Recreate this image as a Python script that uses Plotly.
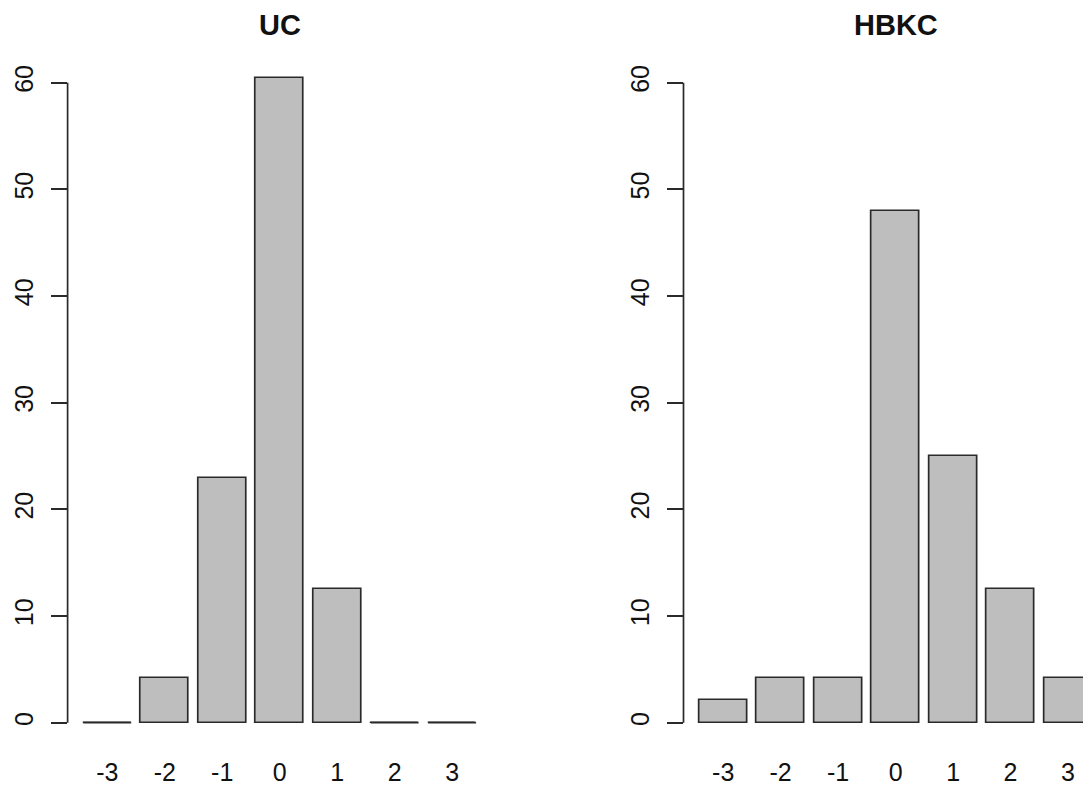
import plotly.graph_objects as go

categories = ["-3", "-2", "-1", "0", "1", "2", "3"]
uc_values = [0.0, 4.17, 22.92, 60.42, 12.5, 0.0, 0.0]
hbkc_values = [2.08, 4.17, 4.17, 47.92, 25.0, 12.5, 4.17]
y_ticks = [0, 10, 20, 30, 40, 50, 60]
titles = ["UC", "HBKC"]

BAR_W = 1.0
SPACE = 0.2
positions = [SPACE + BAR_W / 2 + i * (BAR_W + SPACE) for i in range(len(categories))]

FILL = "#bebebe"
LINE = "#2a2a2a"
LW = 1.7
FONT = "Liberation Sans, Arial, Helvetica, sans-serif"
TICK_SIZE = 25
TITLE_SIZE = 29

# the page body has an 8px default margin; lay out in window pixels
OFF = 8
WIN_W, WIN_H = 1091, 789
W, H = WIN_W - OFF, WIN_H - OFF

left_px = (67.6 - OFF, 491.8 - OFF)
right_px = (683.5 - OFF, 1107.8 - OFF)
y_px = (748.3 - OFF, 57.1 - OFF)  # bottom, top

n = len(categories)
span = n * (BAR_W + SPACE)
x_lo = SPACE - 0.04 * (span - SPACE)
x_hi = span + 0.04 * (span - SPACE)
unit = (left_px[1] - left_px[0]) / (x_hi - x_lo)

fig = go.Figure()

panels = [("x", "y", uc_values), ("x2", "y2", hbkc_values)]

for xa, ya, vals in panels:
    fig.add_trace(go.Bar(
        x=positions, y=vals, width=BAR_W,
        marker=dict(color=FILL, line=dict(color=LINE, width=LW)),
        xaxis=xa, yaxis=ya, showlegend=False, hoverinfo="skip",
    ))
    # zero-height bars are drawn by R as a flat outline
    zx, zy = [], []
    for p, v in zip(positions, vals):
        if v == 0:
            zx += [p - BAR_W / 2, p + BAR_W / 2, None]
            zy += [0, 0, None]
    if zx:
        fig.add_trace(go.Scatter(
            x=zx, y=zy, mode="lines", line=dict(color=LINE, width=LW),
            xaxis=xa, yaxis=ya, showlegend=False, hoverinfo="skip",
        ))

right_hi = x_lo + (W - right_px[0]) / unit

xcommon = dict(
    tickmode="array", tickvals=positions, ticktext=categories,
    showgrid=False, zeroline=False, showline=False,
    ticks="outside", ticklen=2, tickcolor="rgba(0,0,0,0)",
    tickfont=dict(family=FONT, size=TICK_SIZE, color="#111"),
    fixedrange=True,
)
ycommon = dict(
    range=[-2.4, 62.4], tickmode="array", tickvals=y_ticks,
    showgrid=False, zeroline=False, showline=False,
    ticks="outside", ticklen=16, tickwidth=LW, tickcolor=LINE,
    tickangle=-90, ticklabelstandoff=8,
    tickfont=dict(family=FONT, size=TICK_SIZE, color="#111"),
    fixedrange=True,
)

ydom = [1 - y_px[0] / H, 1 - y_px[1] / H]
fig.update_layout(
    width=W, height=H,
    margin=dict(l=0, r=0, t=0, b=0),
    paper_bgcolor="white", plot_bgcolor="white",
    bargap=0,
    xaxis=dict(domain=[left_px[0] / W, left_px[1] / W], range=[x_lo, x_hi], **xcommon),
    xaxis2=dict(domain=[right_px[0] / W, 1.0], range=[x_lo, right_hi], anchor="y2", **xcommon),
    yaxis=dict(domain=ydom, anchor="x", **ycommon),
    yaxis2=dict(domain=ydom, anchor="x2", **ycommon),
)

# y axis lines spanning only the tick range (R style)
for xa, ya in [("x", "y"), ("x2", "y2")]:
    fig.add_shape(type="line", xref=f"{xa} domain", yref=ya,
                  x0=0, x1=0, y0=min(y_ticks), y1=max(y_ticks),
                  line=dict(color=LINE, width=LW), layer="above")

title_x = [0.5, 0.5 * (right_px[1] - right_px[0]) / (W - right_px[0])]
for xa, t, tx in [("x", titles[0], title_x[0]), ("x2", titles[1], title_x[1])]:
    fig.add_annotation(text=f"<b>{t}</b>", xref=f"{xa} domain", yref="paper",
                       x=tx, y=1.0, xanchor="center", yanchor="top",
                       showarrow=False, borderpad=0,
                       font=dict(family=FONT, size=TITLE_SIZE, color="#111"))

fig.write_html("out.html")
